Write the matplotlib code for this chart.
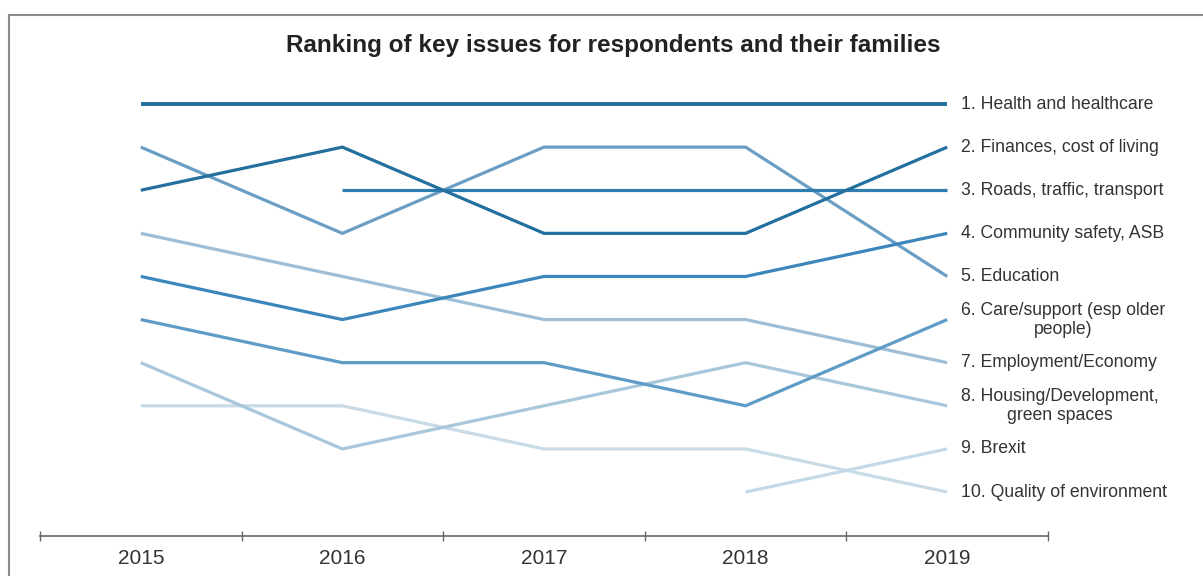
import numpy as np
import matplotlib
matplotlib.use("Agg")
import matplotlib.pyplot as plt
from matplotlib.patches import Rectangle

plt.rcParams['font.family'] = ['Liberation Sans', 'DejaVu Sans']

years = ["2015", "2016", "2017", "2018", "2019"]
issues = [
    "1. Health and healthcare",
    "2. Finances, cost of living",
    "3. Roads, traffic, transport",
    "4. Community safety, ASB",
    "5. Education",
    "6. Care/support (esp older\npeople)",
    "7. Employment/Economy",
    "8. Housing/Development,\ngreen spaces",
    "9. Brexit",
    "10. Quality of environment",
]
nan = np.nan
health = [1, 1, 1, 1, 1]
finances = [3, 2, 4, 4, 2]
roads = [nan, 3, 3, 3, 3]
community = [5, 6, 5, 5, 4]
education = [2, 4, 2, 2, 5]
care = [6, 7, 7, 8, 6]
employment = [4, 5, 6, 6, 7]
housing = [7, 9, 8, 7, 8]
brexit = [nan, nan, nan, 10, 9]
environment = [8, 8, 9, 9, 10]
ranks = [health, finances, roads, community, education,
         care, employment, housing, brexit, environment]

colors = ["#1f6e9c", "#236f9e", "#2e7db0", "#3b86bb", "#6a9ec4",
          "#5e9bc6", "#9dbed6", "#a9c7db", "#c3d9e7", "#c9dbe6"]

W, H = 1203, 576
fig = plt.figure(figsize=(W / 100, H / 100), dpi=100)
fig.patch.set_facecolor("white")

# outer frame (left and top edges visible)
fig.patches.append(Rectangle((9 / W, -0.1), 1.2, (576 - 15) / H + 0.1,
                             transform=fig.transFigure, fill=False,
                             edgecolor="#8a8a8a", linewidth=1.5))

ax_left, ax_right = 40 / W, 1048 / W
ax_bottom = 40 / H
ylim_top = 0.5
row = 43.1
top_px = 104 - (1 - ylim_top) * row
ax = fig.add_axes([ax_left, ax_bottom, ax_right - ax_left,
                   (H - top_px) / H - ax_bottom])

x = np.arange(len(years))
for i in reversed(range(len(issues))):
    lw = 2.8 if i == 0 else 2.3
    ax.plot(x, ranks[i], color=colors[i], linewidth=lw,
            solid_capstyle="butt", solid_joinstyle="miter")

for i, name in enumerate(issues):
    ax.text(4.07, ranks[i][-1], name, ha="left", va="center",
            multialignment="center", fontsize=12.7, color="#333333",
            linespacing=1.15, clip_on=False)

ax.set_xlim(-0.5, 4.5)
ax.set_ylim(11.02, ylim_top)
ax.set_yticks([])
for s in ["top", "right", "left"]:
    ax.spines[s].set_visible(False)
ax.spines["bottom"].set_color("#666666")
ax.spines["bottom"].set_linewidth(1.2)

ax.set_xticks(np.arange(-0.5, 5.0, 1.0))
ax.set_xticklabels([])
ax.tick_params(axis="x", direction="inout", length=7, width=1, color="#666666")
ax.set_xticks(x, minor=True)
ax.set_xticklabels(years, minor=True, fontsize=15, color="#333333")
ax.tick_params(axis="x", which="minor", length=0, pad=9)

fig.text(613 / W, 1 - 52 / H, "Ranking of key issues for respondents and their families",
         ha="center", va="baseline", fontsize=17.5, fontweight="bold", color="#222222")

fig.savefig("out.png", dpi=100)
